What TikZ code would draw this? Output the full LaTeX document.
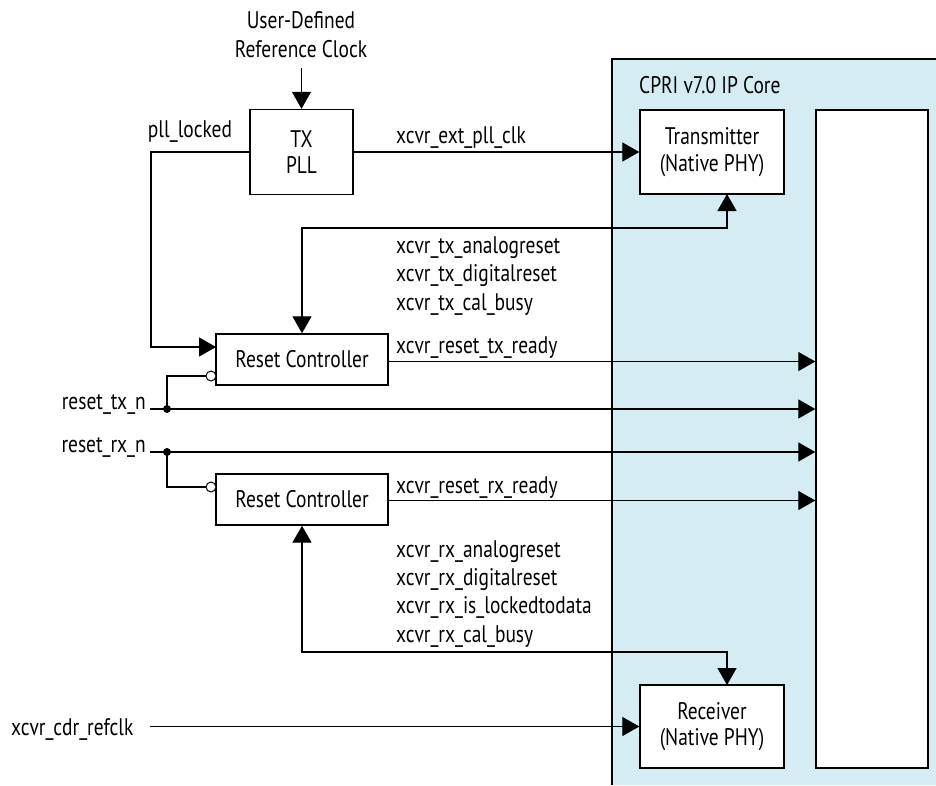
\documentclass[tikz,border=0pt]{standalone}
\usepackage{fontspec}
\setmainfont{PT Sans}[FakeStretch=0.81]
\usetikzlibrary{arrows.meta}
\definecolor{coreblue}{RGB}{213,236,243}
\tikzset{
  box/.style={draw, line width=1.4pt, fill=white, inner sep=0pt, align=center},
  wire/.style={line width=1.3pt},
  arr/.style={wire, -{Triangle[length=17pt,width=19pt]}},
  arrboth/.style={wire, {Triangle[length=17pt,width=19pt]}-{Triangle[length=17pt,width=19pt]}},
  jdot/.style={circle, fill, inner sep=0pt, minimum size=8pt},
  bub/.style={circle, draw, fill=white, line width=1pt, inner sep=0pt, minimum size=10pt},
  lbl/.style={anchor=base west, inner sep=0pt},
}
\begin{document}
\begin{tikzpicture}[x=1pt,y=-1pt,font=\fontsize{24}{26.5}\selectfont]
\useasboundingbox (0,0) rectangle (936,785);
% core background
\fill[coreblue] (612,59) rectangle (936,785);
\draw[line width=1.4pt] (612,785) -- (612,59) -- (936,59);
\node[lbl] (corelbl) at (639,93) {CPRI v7.0 IP Core};

% blocks
\node[box, minimum width=103pt, minimum height=85pt] (pll) at (301.5,152) {TX\\PLL};
\node[box, minimum width=144pt, minimum height=84pt] (tx) at (712,152) {Transmitter\\(Native PHY)};
\node[box, minimum width=144pt, minimum height=83pt] (rx) at (712,726.5) {Receiver\\(Native PHY)};
\node[box, minimum width=112pt, minimum height=658pt] (core) at (872,439) {};
\node[box, minimum width=172pt, minimum height=51pt] (rc1) at (302,359.5) {Reset Controller};
\node[box, minimum width=172pt, minimum height=51pt] (rc2) at (302,499.5) {Reset Controller};

% reference clock
\node[anchor=base, inner sep=0pt] (ref1) at (301,28) {User-Defined};
\node[anchor=base, inner sep=0pt] (ref2) at (301,57) {Reference Clock};
\coordinate (refsrc) at (301.5,68);
\draw[arr] (refsrc) -- (pll.north);

% pll outputs
\draw[arr] (pll.east) -- (tx.west);
\node[lbl] (extlbl) at (396,143) {xcvr\_ext\_pll\_clk};
\node[anchor=base, inner sep=0pt] (locklbl) at (190,137) {pll\_locked};
\coordinate (pllL) at (151,152);
\coordinate (rc1in) at (216,347);
\draw[arr] (pll.west) -- (pllL) |- (rc1in);

% tx bus
\coordinate (txbusA) at (302,228);
\coordinate (txbusB) at (727,228);
\coordinate (txin) at (727,194);
\draw[arrboth] (rc1.north) -- (txbusA) -- (txbusB) -- (txin);
\node[lbl] (t1) at (396,253) {xcvr\_tx\_analogreset};
\node[lbl] (t2) at (396,281.5) {xcvr\_tx\_digitalreset};
\node[lbl] (t3) at (396,310) {xcvr\_tx\_cal\_busy};

% ready lines
\node[lbl] (txrdy) at (396,353) {xcvr\_reset\_tx\_ready};
\draw[arr] ([yshift=-2pt]rc1.east) -- ([yshift=-2pt]rc1.east -| core.west);
\node[lbl] (rxrdy) at (396,493) {xcvr\_reset\_rx\_ready};
\draw[arr] ([yshift=-1pt]rc2.east) -- ([yshift=-1pt]rc2.east -| core.west);

% reset_tx_n
\node[anchor=base east, inner sep=0pt] (rtxlbl) at (146,409) {reset\_tx\_n};
\coordinate (rtxS) at (150,409);
\node[jdot] (dtx) at (167,409) {};
\draw[arr] (rtxS) -- (rtxS -| core.west);
\node[bub] (b1) at (211,376) {};
\draw[wire] (dtx.center) |- (b1.west);

% reset_rx_n
\node[anchor=base east, inner sep=0pt] (rrxlbl) at (146,452) {reset\_rx\_n};
\coordinate (rrxS) at (150,452);
\node[jdot] (drx) at (167,452) {};
\draw[arr] (rrxS) -- (rrxS -| core.west);
\node[bub] (b2) at (211,487) {};
\draw[wire] (drx.center) |- (b2.west);

% rx bus
\coordinate (rxbusA) at (302,652);
\coordinate (rxbusB) at (727,652);
\coordinate (rxin) at (727,685);
\draw[arrboth] (rc2.south) -- (rxbusA) -- (rxbusB) -- (rxin);
\node[lbl] (r1) at (396,557) {xcvr\_rx\_analogreset};
\node[lbl] (r2) at (396,585) {xcvr\_rx\_digitalreset};
\node[lbl] (r3) at (396,613.5) {xcvr\_rx\_is\_lockedtodata};
\node[lbl] (r4) at (396,642) {xcvr\_rx\_cal\_busy};

% cdr refclk
\node[lbl] (cdrlbl) at (11,735) {xcvr\_cdr\_refclk};
\coordinate (cdrS) at (150,726.5);
\draw[arr] (cdrS) -- (rx.west);
\end{tikzpicture}
\end{document}
